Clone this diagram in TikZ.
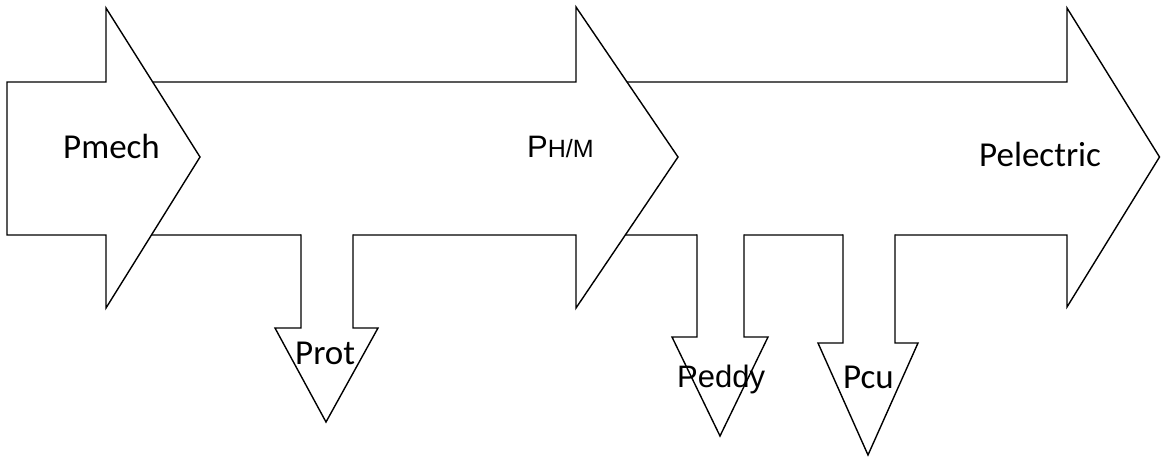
\documentclass[tikz,border=0pt]{standalone}
\usepackage{fontspec}
\setmainfont{Carlito}
\newfontfamily\arialf{Liberation Sans}
\begin{document}
\begin{tikzpicture}[x=1pt,y=-1pt,
  outl/.style={fill=white, draw=black, line width=1.4pt, line join=miter},
  side/.style={draw=black, line width=1.4pt, line join=miter, line cap=rect},
  lbl/.style={inner sep=0pt, anchor=base west, text=black, font=\fontsize{35}{42}\selectfont}]
\useasboundingbox (0,0) rectangle (1161,459);
% big arrows, back to front
\path[outl] (590,82) -- (1067,82) -- (1067,8) -- (1159.5,157) -- (1067,307) -- (1067,235) -- (590,235);
\path[outl] (120,82) -- (576,82) -- (576,7) -- (678,157) -- (576,308) -- (576,235) -- (120,235);
\path[outl] (7,235) -- (7,82) -- (106,82) -- (106,8) -- (200,157) -- (106,308) -- (106,235) -- cycle;
% down arrows
\fill[white] (301,231) -- (301,328) -- (275,328) -- (326,422) -- (378,328) -- (353,328) -- (353,231) -- cycle;
\path[side] (301,235) -- (301,328) -- (275,328) -- (326,422) -- (378,328) -- (353,328) -- (353,235);
\fill[white] (697,231) -- (697,337) -- (672,337) -- (720,436) -- (768,337) -- (744,337) -- (744,231) -- cycle;
\path[side] (697,235) -- (697,337) -- (672,337) -- (720,436) -- (768,337) -- (744,337) -- (744,235);
\fill[white] (843,231) -- (843,343) -- (818,343) -- (868,455) -- (918,343) -- (895,343) -- (895,231) -- cycle;
\path[side] (843,235) -- (843,343) -- (818,343) -- (868,455) -- (918,343) -- (895,343) -- (895,235);
% labels
\node[lbl] (pmech) at (63,158) {Pmech};
\node[lbl, font=\arialf\fontsize{31}{36}\selectfont] (phm) at (527,157) {P{\fontsize{25}{30}\selectfont H/M}};
\node[lbl] (pelec) at (979,166) {Pelectric};
\node[lbl] (prot) at (295,364) {Prot};
\node[lbl, font=\arialf\fontsize{31}{36}\selectfont] (peddy) at (677,387) {Peddy};
\node[lbl] (pcu) at (843,388) {Pcu};
\end{tikzpicture}
\end{document}
